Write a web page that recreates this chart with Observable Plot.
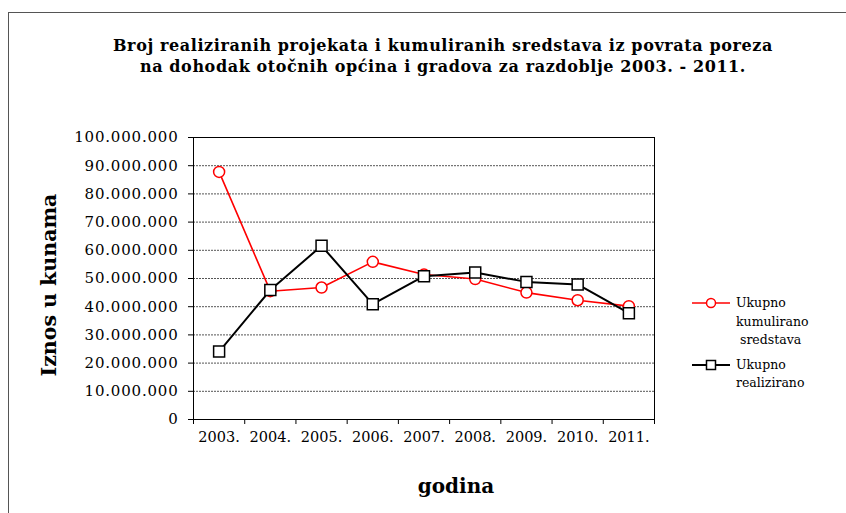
<!DOCTYPE html>
<html>
<head>
<meta charset="utf-8">
<script src="https://cdn.jsdelivr.net/npm/d3@7"></script>
<script src="https://cdn.jsdelivr.net/npm/@observablehq/plot@0.6"></script>
<style>
  body { margin: 0; background: #fff; }
  #wrap { position: relative; width: 846px; height: 513px; overflow: hidden; font-family: "DejaVu Serif", serif; }
  #border { position: absolute; left: 8px; top: 12px; width: 860px; height: 520px; border: 1px solid #555; box-sizing: border-box; }
  #title { position: absolute; left: 20px; top: 35px; width: 846px; text-align: center; font-weight: bold; font-size: 16px; letter-spacing: 0.6px; line-height: 21px; }
  #ylab { position: absolute; left: 49px; top: 285px; transform: translate(-50%, -50%) rotate(-90deg); font-weight: bold; font-size: 20.5px; white-space: nowrap; }
  #xlab { position: absolute; left: 456px; top: 474px; transform: translateX(-50%); font-weight: bold; font-size: 20px; white-space: nowrap; }
  #chart { position: absolute; left: 0; top: 0; }
  #chart g[aria-label="y-axis tick label"] text { letter-spacing: 0.8px; }
  #legend { position: absolute; left: 690px; top: 294px; font-size: 12.5px; line-height: 18.5px; }
  .item { display: flex; align-items: flex-start; margin-bottom: 6px; }
  .item svg { flex: none; margin-right: 4px; }
</style>
</head>
<body>
<div id="wrap">
  <div id="border"></div>
  <div id="chart"></div>
  <div id="title">Broj realiziranih projekata i kumuliranih sredstava iz povrata poreza<br>na dohodak otočnih općina i gradova za razdoblje 2003. - 2011.</div>
  <div id="ylab">Iznos u kunama</div>
  <div id="xlab">godina</div>
  <div id="legend"></div>
</div>
<script>
const years = ["2003.", "2004.", "2005.", "2006.", "2007.", "2008.", "2009.", "2010.", "2011."];
const kumulirano = [87.8e6, 45.5e6, 46.8e6, 55.9e6, 51.4e6, 49.8e6, 45.0e6, 42.3e6, 40.2e6];
const realizirano = [24.1e6, 45.9e6, 61.6e6, 40.9e6, 50.8e6, 52.1e6, 48.8e6, 47.9e6, 37.7e6];
const yTicks = d3.range(0, 100e6 + 1, 10e6);
const seriesNames = ["Ukupno kumulirano sredstava", "Ukupno realizirano"];

const rows1 = years.map((y, i) => ({pos: i + 0.5, year: y, value: kumulirano[i]}));
const rows2 = years.map((y, i) => ({pos: i + 0.5, year: y, value: realizirano[i]}));
const fmt = v => d3.format(",")(v).replace(/,/g, ".");

const chart = Plot.plot({
  width: 846,
  height: 513,
  marginLeft: 193,
  marginRight: 192,
  marginTop: 137,
  marginBottom: 94,
  style: {fontFamily: "DejaVu Serif, serif", fontSize: "14px", color: "#000", background: "transparent", overflow: "visible"},
  x: {domain: [0, years.length], axis: null, label: null},
  y: {domain: [0, 100e6], axis: null, label: null},
  marks: [
    Plot.gridY(yTicks, {stroke: "#555", strokeOpacity: 1, strokeWidth: 1, strokeDasharray: "2,1"}),
    Plot.frame({stroke: "#000", strokeWidth: 1}),
    Plot.axisY(yTicks, {tickFormat: fmt, tickSize: 5, tickPadding: 10, fontSize: 15, stroke: "#000", label: null}),
    Plot.axisX(d3.range(0, years.length + 1), {tickFormat: () => "", tickSize: 5, stroke: "#000", label: null}),
    Plot.axisX(rows1.map(d => d.pos), {tickFormat: p => years[Math.floor(p)], tickSize: 0, tickPadding: 12, fontSize: 14.5, label: null}),
    Plot.line(rows1, {x: "pos", y: "value", stroke: "#ff0000", strokeWidth: 1.6}),
    Plot.dot(rows1, {x: "pos", y: "value", r: 5.5, stroke: "#ff0000", strokeWidth: 1.5, fill: "#fff"}),
    Plot.line(rows2, {x: "pos", y: "value", stroke: "#000", strokeWidth: 2}),
    Plot.dot(rows2, {x: "pos", y: "value", symbol: "square", r: 6.2, stroke: "#000", strokeWidth: 1.5, fill: "#fff"})
  ]
});
document.getElementById("chart").appendChild(chart);

// legend
const legend = document.getElementById("legend");
const legendItems = [
  {lines: ["Ukupno", "kumulirano", "&nbsp;sredstava"], color: "#ff0000", shape: "circle", width: 1.6},
  {lines: ["Ukupno", "realizirano"], color: "#000", shape: "square", width: 2}
];
legendItems.forEach(it => {
  const div = document.createElement("div");
  div.className = "item";
  const shape = it.shape === "circle"
    ? `<circle cx="21" cy="9" r="4.5" fill="#fff" stroke="${it.color}" stroke-width="1.5"/>`
    : `<rect x="16.5" y="4.5" width="9" height="9" fill="#fff" stroke="${it.color}" stroke-width="1.5"/>`;
  div.innerHTML = `<svg width="42" height="18"><line x1="2" x2="40" y1="9" y2="9" stroke="${it.color}" stroke-width="${it.width}"/>${shape}</svg><div>${it.lines.join("<br>")}</div>`;
  legend.appendChild(div);
});
</script>
</body>
</html>
